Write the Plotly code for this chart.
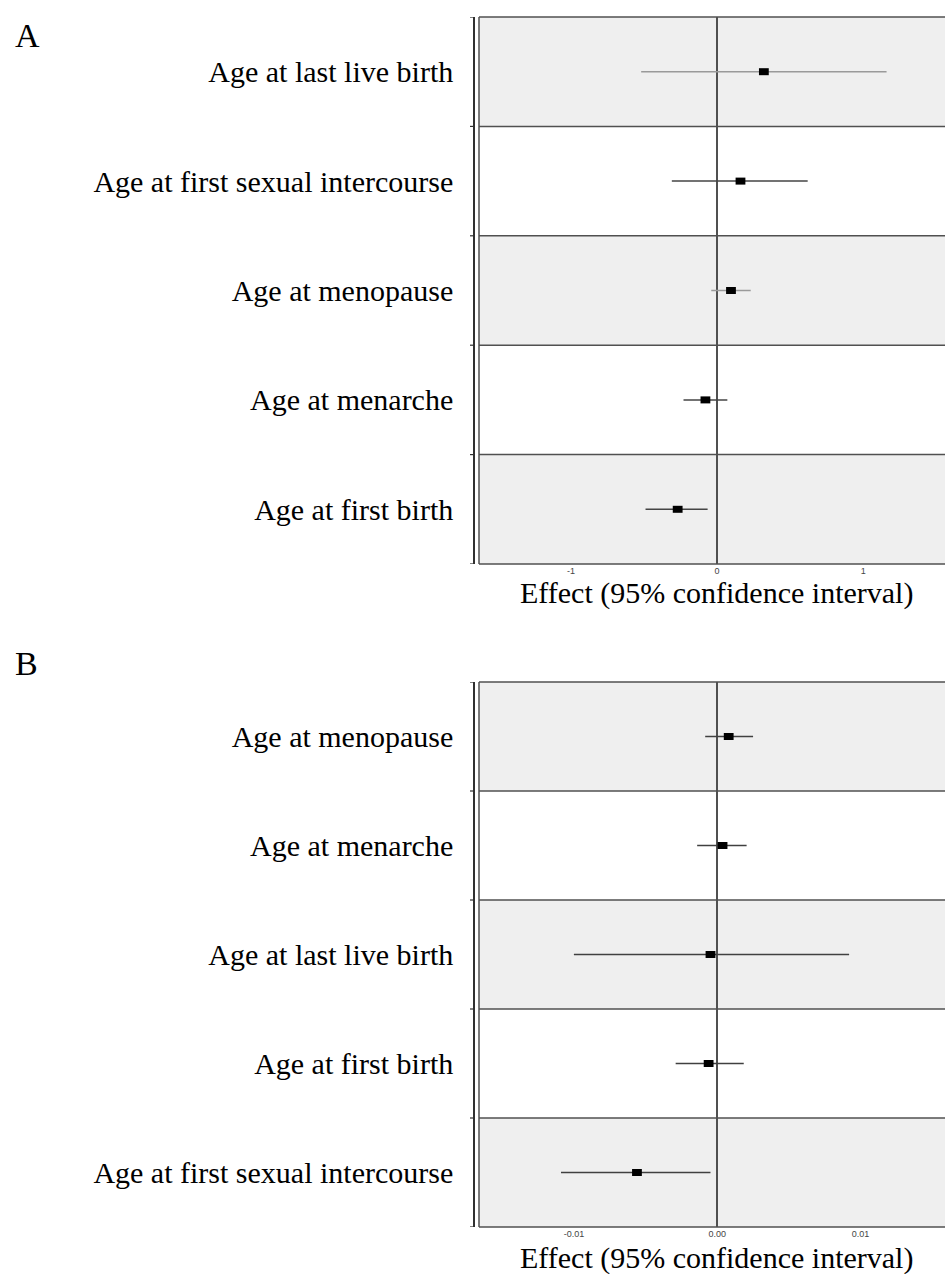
import plotly.graph_objects as go

# Panel A: reproductive traits, effect on scale of units
a_labels = ["Age at last live birth", "Age at first sexual intercourse",
            "Age at menopause", "Age at menarche", "Age at first birth"]
a_est = [0.32, 0.16, 0.095, -0.08, -0.27]
a_lo = [-0.52, -0.31, -0.04, -0.23, -0.49]
a_hi = [1.16, 0.62, 0.23, 0.07, -0.065]
a_ticks = [-1, 0, 1]
a_ticktext = ["-1", "0", "1"]

# Panel B: same traits, smaller effect scale
b_labels = ["Age at menopause", "Age at menarche", "Age at last live birth",
            "Age at first birth", "Age at first sexual intercourse"]
b_est = [0.0008, 0.00037, -0.00047, -0.0006, -0.0056]
b_lo = [-0.00084, -0.0014, -0.0100, -0.0029, -0.0109]
b_hi = [0.0025, 0.00205, 0.0092, 0.00185, -0.00047]
b_ticks = [-0.01, 0.0, 0.01]
b_ticktext = ["-0.01", "0.00", "0.01"]

A_CI_COLORS = ["#9a9a9a", "#454545", "#9a9a9a", "#454545", "#454545"]
B_CI_COLORS = ["#404040"] * 5

W, H = 945, 1274
X_LEFT = 479 / W
AXIS_POS = 474 / W
SERIF = "Liberation Serif, Times New Roman, serif"
LINE = "#505050"


def py(px):
    return 1 - px / H


fig = go.Figure()

panels = [
    dict(labels=a_labels, est=a_est, lo=a_lo, hi=a_hi, colors=A_CI_COLORS,
         xr=[-1.63, 1.56], ticks=a_ticks, ticktext=a_ticktext,
         top=17, bottom=564, letter="A", letter_y=35, title_y=593,
         xa="x", ya="y"),
    dict(labels=b_labels, est=b_est, lo=b_lo, hi=b_hi, colors=B_CI_COLORS,
         xr=[-0.01662, 0.01589], ticks=b_ticks, ticktext=b_ticktext,
         top=682, bottom=1227, letter="B", letter_y=663, title_y=1258,
         xa="x2", ya="y2"),
]

shapes = []
annotations = []
for k, p in enumerate(panels):
    rows = list(range(1, len(p["labels"]) + 1))
    # confidence intervals, one trace per row for its own colour
    for r, e, lo, hi, c in zip(rows, p["est"], p["lo"], p["hi"], p["colors"]):
        fig.add_trace(go.Scatter(
            x=[lo, hi], y=[r, r], mode="lines",
            line=dict(color=c, width=1.5),
            xaxis=p["xa"], yaxis=p["ya"], showlegend=False, hoverinfo="skip"))
    # point estimates as small black rectangles
    fig.add_trace(go.Scatter(
        x=p["est"], y=rows, mode="markers",
        marker=dict(symbol="line-ew", size=7,
                    line=dict(width=7, color="black")),
        xaxis=p["xa"], yaxis=p["ya"], showlegend=False))

    xref_dom = p["xa"] + " domain"
    yref_dom = p["ya"] + " domain"
    # alternating row shading
    for r in rows:
        if r % 2 == 1:
            shapes.append(dict(type="rect", xref=xref_dom, yref=p["ya"],
                               x0=0, x1=1, y0=r - 0.5, y1=r + 0.5,
                               fillcolor="#efefef", line=dict(width=0),
                               layer="below"))
    # row separators
    for r in rows[:-1]:
        shapes.append(dict(type="line", xref=xref_dom, yref=p["ya"],
                           x0=0, x1=1, y0=r + 0.5, y1=r + 0.5,
                           line=dict(color=LINE, width=1.5), layer="below"))
    # panel frame: top, bottom and left edges (right side runs off the page)
    for (x0, x1, y0, y1) in [(0, 1, 1, 1), (0, 1, 0, 0), (0, 0, 0, 1)]:
        shapes.append(dict(type="line", xref=xref_dom, yref=yref_dom,
                           x0=x0, x1=x1, y0=y0, y1=y1,
                           line=dict(color=LINE, width=1.5), layer="above"))
    # outer axis ticks at row boundaries
    for r in range(0, len(rows) + 1):
        shapes.append(dict(type="line", xref="paper", yref=p["ya"],
                           x0=AXIS_POS - 4 / W, x1=AXIS_POS, y0=r + 0.5, y1=r + 0.5,
                           line=dict(color="#303030", width=1.2)))

    annotations.append(dict(text=p["letter"], xref="paper", yref="paper",
                            x=13 / W, y=py(p["letter_y"]), xanchor="left",
                            yanchor="middle", showarrow=False,
                            font=dict(family=SERIF, size=34, color="black")))
    annotations.append(dict(text="Effect (95% confidence interval)",
                            xref="paper", yref="paper", x=716 / W,
                            y=py(p["title_y"]), xanchor="center",
                            yanchor="middle", showarrow=False,
                            font=dict(family=SERIF, size=30, color="black")))

    xkey = "xaxis" if k == 0 else "xaxis2"
    ykey = "yaxis" if k == 0 else "yaxis2"
    fig.update_layout({
        xkey: dict(domain=[X_LEFT, 1], range=p["xr"], anchor=p["ya"],
                   tickvals=p["ticks"], ticktext=p["ticktext"],
                   tickfont=dict(family="Liberation Sans, Arial", size=9,
                                 color="#444"),
                   showgrid=False, showline=False, ticks="",
                   zeroline=True, zerolinecolor=LINE, zerolinewidth=1.5,
                   fixedrange=True),
        ykey: dict(domain=[py(p["bottom"]), py(p["top"])],
                   range=[len(rows) + 0.5, 0.5], anchor="free",
                   position=AXIS_POS,
                   tickvals=rows, ticktext=p["labels"],
                   tickfont=dict(family=SERIF, size=30, color="black"),
                   ticklabelstandoff=14,
                   showgrid=False, zeroline=False, showline=True,
                   linecolor="#303030", linewidth=1.5, ticks="",
                   fixedrange=True),
    })

fig.update_layout(
    width=W, height=H,
    margin=dict(l=0, r=0, t=0, b=0),
    paper_bgcolor="white", plot_bgcolor="white",
    shapes=shapes, annotations=annotations,
    showlegend=False,
)

fig.write_html("out.html")
